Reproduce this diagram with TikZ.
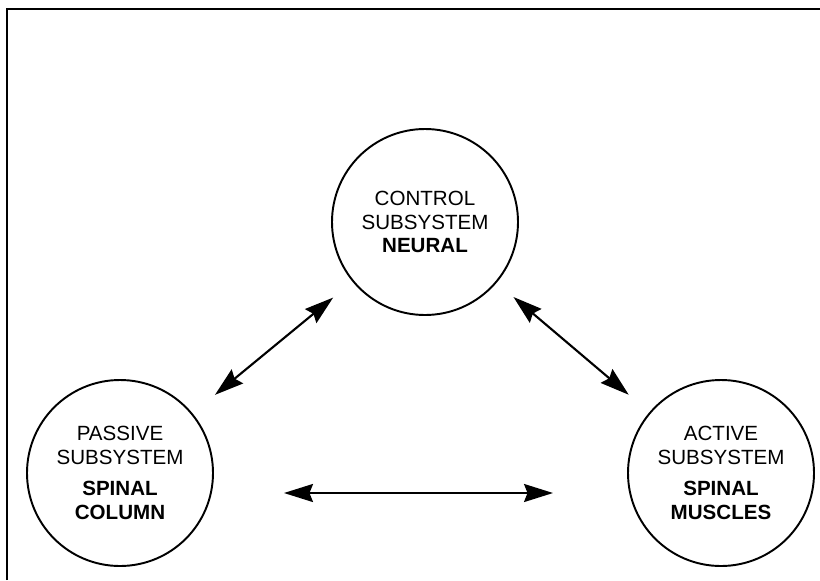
\documentclass[tikz,border=0pt]{standalone}
\usepackage{fontspec}
\setmainfont{Liberation Sans}
\usepackage{tikz}
\usetikzlibrary{arrows.meta, positioning, calc}

\tikzset{
    subsys/.style={circle, draw, line width=1.1pt, minimum size=3.72cm, inner sep=0pt,
        align=center, font=\fontsize{11.7}{13.5}\selectfont},
    link/.style={{Stealth[length=5.8mm, width=3.6mm, inset=0.7mm]}-{Stealth[length=5.8mm, width=3.6mm, inset=0.7mm]},
        line width=1.2pt}
}

\begin{document}
\begin{tikzpicture}
\useasboundingbox (0,0) rectangle (16.4,-11.6);
% frame
\draw[line width=0.5mm] (0.14,-11.6) -- (0.14,-0.18) -- (16.4,-0.18);

% Control
\node[subsys] (control) at (8.5,-4.44) {CONTROL\\SUBSYSTEM\\\textbf{NEURAL}};

% Passive
\node[subsys] (passive) at (2.4,-9.46) {PASSIVE\\SUBSYSTEM\\[4pt]\textbf{SPINAL}\\\textbf{COLUMN}};

% Active
\node[subsys] (active) at (14.42,-9.46) {ACTIVE\\SUBSYSTEM\\[4pt]\textbf{SPINAL}\\\textbf{MUSCLES}};

% links
\draw[link, shorten <=5.8mm, shorten >=5mm] (passive) -- (control);
\draw[link, shorten <=4.4mm, shorten >=5.4mm] (control) -- (active);
\draw[link, shorten <=14mm, shorten >=14.8mm] ([yshift=-4mm]passive.east) -- ([yshift=-4mm]active.west);
\end{tikzpicture}
\end{document}
